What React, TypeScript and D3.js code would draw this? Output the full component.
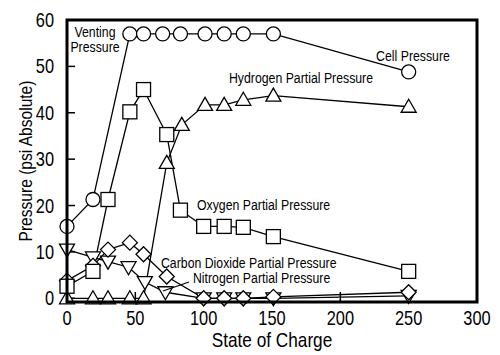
import React from "react";
import * as d3 from "d3";

const xTicks = [0, 50, 100, 150, 200, 250, 300];
const yTicks = [0, 10, 20, 30, 40, 50, 60];

const cellSOC = [0, 19, 46, 56, 70, 83, 101, 115, 129, 151, 250];
const cellP = [15.5, 21.3, 57, 57, 57, 57, 57, 57, 57, 57, 48.8];

const oxygenSOC = [0, 19, 30, 46, 56, 73, 83, 100, 115, 129, 151, 250];
const oxygenP = [2.6, 5.8, 21.3, 40.2, 45, 35.3, 19, 15.5, 15.5, 15.3, 13.3, 5.8];

const hydrogenSOC = [0, 19, 30, 46, 56, 73, 84, 101, 115, 129, 151, 250];
const hydrogenP = [0, 0, 0, 0, 0, 29.2, 37.4, 41.7, 41.7, 42.8, 43.7, 41.3];

const co2SOC = [0, 19, 30, 46, 56, 73, 100, 115, 129, 151, 250];
const co2P = [3.8, 7, 10.5, 12, 9.5, 4.7, 0, 0, 0, 0.3, 1.3];

const nitrogenSOC = [0, 19, 30, 45, 57, 72, 100, 115, 129, 151, 250];
const nitrogenP = [10.5, 8.8, 7.9, 6.7, 3.5, 1.3, 0, 0, 0, 0, 0.5];

const FONT = "'Liberation Sans', Arial, sans-serif";
const SX = 0.82;

type Shape = "circle" | "square" | "up" | "down" | "diamond";

function Marker({ shape, x, y }: { shape: Shape; x: number; y: number }) {
  const common = { fill: "#fff", stroke: "#000", strokeWidth: 1.3 };
  if (shape === "circle") return <circle cx={x} cy={y} r={7} {...common} />;
  if (shape === "square") return <rect x={x - 7} y={y - 7} width={14} height={14} {...common} />;
  let pts: [number, number][] = [];
  if (shape === "up") pts = [[0, -7.5], [7.5, 5.5], [-7.5, 5.5]];
  if (shape === "down") pts = [[0, 7.5], [7.5, -5.5], [-7.5, -5.5]];
  if (shape === "diamond") pts = [[0, -7.5], [7.5, 0], [0, 7.5], [-7.5, 0]];
  return <polygon points={pts.map(([a, b]) => `${x + a},${y + b}`).join(" ")} {...common} />;
}

function T({ x, y, size, anchor = "start", rotate = 0, children }: { x: number; y: number; size: number; anchor?: string; rotate?: number; children: React.ReactNode }) {
  return (
    <text
      transform={`translate(${x},${y}) rotate(${rotate}) scale(${SX},1)`}
      textAnchor={anchor as any}
      style={{ fontFamily: FONT, fontSize: size, fill: "#000" }}
    >
      {children}
    </text>
  );
}

export default function App() {
  const W = 500, H = 355;
  const left = 67, right = 477, top = 20, bottom = 302;
  const x = d3.scaleLinear().domain([0, 300]).range([left, right]);
  const y = d3.scaleLinear().domain([-0.8, 60]).range([bottom, top]);
  const line = d3.line<[number, number]>().x(d => x(d[0])).y(d => y(d[1]));

  const series: { xs: number[]; ys: number[]; shape: Shape }[] = [
    { xs: nitrogenSOC, ys: nitrogenP, shape: "down" },
    { xs: co2SOC, ys: co2P, shape: "diamond" },
    { xs: hydrogenSOC, ys: hydrogenP, shape: "up" },
    { xs: oxygenSOC, ys: oxygenP, shape: "square" },
    { xs: cellSOC, ys: cellP, shape: "circle" },
  ];

  return (
    <svg width={W} height={H} style={{ position: "absolute", left: 0, top: 0, background: "#fff" }}>
      {yTicks.map(t => (
        <g key={"y" + t}>
          <line x1={left} x2={left + 8} y1={y(t)} y2={y(t)} stroke="#000" strokeWidth={1.5} />
          <T x={54} y={y(t) + 7} size={20} anchor="end">{t}</T>
        </g>
      ))}
      {xTicks.map(t => (
        <g key={"x" + t}>
          <line x1={x(t)} x2={x(t)} y1={bottom} y2={bottom - 10} stroke="#000" strokeWidth={1.5} />
          <T x={x(t)} y={325} size={20} anchor="middle">{t}</T>
        </g>
      ))}
      <T x={x(150)} y={347} size={21} anchor="middle">State of Charge</T>
      <T x={32} y={(top + bottom) / 2} size={19} anchor="middle" rotate={-90}>Pressure (psi Absolute)</T>

      {series.map((s, i) => (
        <path key={i} d={line(s.xs.map((v, j) => [v, s.ys[j]] as [number, number])) || ""} fill="none" stroke="#000" strokeWidth={1.3} />
      ))}
      {series.map((s, i) => (
        <g key={"m" + i}>
          {s.xs.map((v, j) => <Marker key={j} shape={s.shape} x={x(v)} y={y(s.ys[j])} />)}
        </g>
      ))}

      <T x={95} y={37} size={15} anchor="middle">Venting</T>
      <T x={95} y={52} size={15} anchor="middle">Pressure</T>
      <T x={413} y={61} size={15} anchor="middle">Cell Pressure</T>
      <T x={301} y={83} size={15} anchor="middle">Hydrogen Partial Pressure</T>
      <T x={197} y={210} size={15}>Oxygen Partial Pressure</T>
      <T x={161} y={268} size={15}>Carbon Dioxide Partial Pressure</T>
      <T x={193} y={283} size={15}>Nitrogen Partial Pressure</T>
      <line x1={189} y1={282} x2={163} y2={291} stroke="#000" strokeWidth={1.2} />

      <rect x={left} y={top} width={right - left} height={bottom - top} fill="none" stroke="#000" strokeWidth={3} />
    </svg>
  );
}
